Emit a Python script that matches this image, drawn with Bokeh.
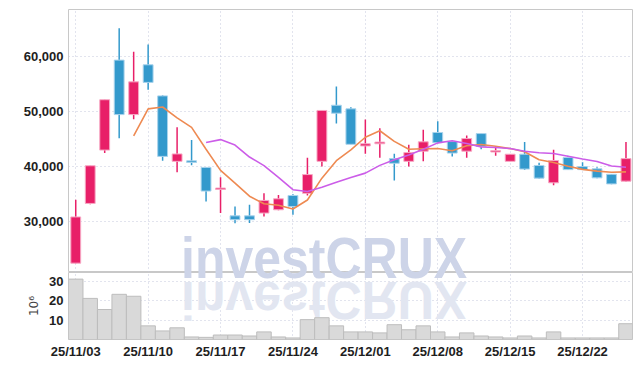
from bokeh.plotting import figure
from bokeh.models import ColumnDataSource, FixedTicker, Range1d, Div, NumeralTickFormatter
from bokeh.layouts import column
from bokeh.embed import file_html
from bokeh.resources import INLINE
import pandas as pd

dates = ["25/11/03", "25/11/04", "25/11/05", "25/11/06", "25/11/07",
         "25/11/10", "25/11/11", "25/11/12", "25/11/13", "25/11/14",
         "25/11/17", "25/11/18", "25/11/19", "25/11/20", "25/11/21",
         "25/11/24", "25/11/25", "25/11/26", "25/11/27", "25/11/28",
         "25/12/01", "25/12/02", "25/12/03", "25/12/04", "25/12/05",
         "25/12/08", "25/12/09", "25/12/10", "25/12/11", "25/12/12",
         "25/12/15", "25/12/16", "25/12/17", "25/12/18", "25/12/19",
         "25/12/22", "25/12/23", "25/12/24", "25/12/26"]
opens = [22500, 33350, 43050, 59400, 49500, 58550, 52900, 41000, 41100, 39900,
         36000, 31100, 31100, 31600, 32200, 34800, 35200, 41000, 51200, 50550,
         43800, 44200, 41500, 41000, 42850, 46250, 44600, 42850, 46050, 42700,
         41000, 42300, 40250, 37100, 41700, 40050, 39650, 38650, 37400]
closes = [30900, 40200, 52200, 49500, 55450, 55350, 41900, 42350, 40800, 35600,
          36150, 30400, 30400, 33900, 34200, 32800, 38600, 50250, 49750, 44100,
          44200, 44500, 40650, 42600, 44550, 44400, 42500, 45150, 43700, 42950,
          42300, 39600, 37950, 41150, 39500, 39500, 38000, 36900, 41500]
highs = [34000, 40200, 52200, 65200, 60900, 62250, 53000, 47200, 44900, 39950,
         38100, 32800, 33100, 35200, 34900, 35000, 41650, 50250, 54600, 50850,
         48600, 47000, 42400, 44000, 46750, 48300, 44700, 45700, 46100, 43600,
         42300, 44500, 40750, 43100, 42000, 40850, 39950, 38700, 44500]
lows = [22500, 33200, 42500, 45200, 48650, 54000, 41100, 39000, 40300, 33700,
        31600, 29750, 29800, 31000, 32100, 31300, 34800, 40050, 47900, 44100,
        42400, 41650, 37500, 40050, 41000, 44300, 41900, 41650, 43200, 42000,
        41000, 39450, 37900, 36650, 39450, 39450, 37950, 36850, 37350]
volumes = [31.0, 21.1, 15.4, 23.2, 22.2, 7.0, 4.4, 6.0, 1.3, 1.1,
           2.3, 2.3, 1.8, 3.9, 1.3, 0.8, 10.2, 11.2, 7.0, 3.9,
           3.9, 3.4, 7.6, 5.0, 7.0, 3.9, 1.3, 3.4, 1.8, 1.3,
           0.8, 1.8, 0.8, 3.9, 0.8, 0.8, 0.8, 0.8, 8.1]
tick_labels = ["25/11/03", "25/11/10", "25/11/17", "25/11/24",
               "25/12/01", "25/12/08", "25/12/15", "25/12/22"]

UP = "#E81F68"
DOWN = "#3399CC"
UP_EDGE = "#F7A8C4"
DOWN_EDGE = "#A9D3EC"
GRID = "#C4C8DC"
FONT = "Liberation Sans"

df = pd.DataFrame({"date": dates, "open": opens, "close": closes,
                   "high": highs, "low": lows, "vol": volumes})
df["x"] = range(len(df))
df["top"] = df[["open", "close"]].max(axis=1)
df["bottom"] = df[["open", "close"]].min(axis=1)
df["bottom"] = df[["bottom", "top"]].apply(lambda r: min(r["bottom"], r["top"] - 250), axis=1)
df["color"] = [UP if c >= o else DOWN for o, c in zip(opens, closes)]
df["edge"] = [UP_EDGE if c >= o else DOWN_EDGE for o, c in zip(opens, closes)]
df["ma5"] = df["close"].rolling(5).mean()
df["ma10"] = df["close"].rolling(10).mean()
src = ColumnDataSource(df)

tick_pos = [dates.index(t) for t in tick_labels]
xr = Range1d(-0.5, 38.45)

p = figure(width=634, height=272, x_range=xr, y_range=Range1d(20800, 68600),
           output_backend="svg", toolbar_location=None,
           min_border_left=68, min_border_right=2, min_border_top=9, min_border_bottom=0)
p.background_fill_color = "white"
p.outline_line_color = "#C8C8C8"
p.xaxis.visible = False
p.yaxis.ticker = FixedTicker(ticks=[30000, 40000, 50000, 60000])
p.yaxis.formatter = NumeralTickFormatter(format="0,0")
for ax in p.yaxis:
    ax.axis_line_color = None
    ax.major_tick_line_color = None
    ax.minor_tick_line_color = None
    ax.major_tick_out = 0
    ax.major_label_text_font = FONT
    ax.major_label_text_font_style = "bold"
    ax.major_label_text_font_size = "13px"
    ax.major_label_text_color = "#1E1E1E"
    ax.major_label_standoff = 5
p.xgrid.ticker = FixedTicker(ticks=tick_pos)
p.grid.grid_line_color = GRID
p.grid.grid_line_dash = "1 3"
p.grid.grid_line_width = 1

p.segment(x0="x", y0="high", x1="x", y1="low", color="color", line_width=1.5, source=src)
p.vbar(x="x", width=0.68, top="top", bottom="bottom", fill_color="color",
       line_color="edge", line_width=1, source=src)
p.line(x="x", y="ma5", color="#EE8A52", line_width=1.6, source=src)
p.line(x="x", y="ma10", color="#CC5DE8", line_width=1.6, source=src)

v = figure(width=634, height=89, x_range=xr, y_range=Range1d(0, 34.4),
           output_backend="svg", toolbar_location=None,
           min_border_left=68, min_border_right=2, min_border_top=0, min_border_bottom=0)
v.outline_line_color = "#C8C8C8"
v.vbar(x="x", width=1.0, top="vol", bottom=0, fill_color="#D9D9D9",
       line_color="#BDBDBD", line_width=1, source=src)
v.xaxis.ticker = FixedTicker(ticks=tick_pos)
v.xaxis.major_label_overrides = {i: t for i, t in zip(tick_pos, tick_labels)}
v.yaxis.ticker = FixedTicker(ticks=[10, 20, 30])
v.yaxis.axis_label = "10\u2076"
v.yaxis.axis_label_text_font = "DejaVu Sans"
v.yaxis.axis_label_text_font_style = "normal"
v.yaxis.axis_label_text_font_size = "12px"
v.yaxis.axis_label_text_color = "#444444"
v.yaxis.axis_label_standoff = 5
for ax in v.xaxis + v.yaxis:
    ax.axis_line_color = None
    ax.major_tick_line_color = None
    ax.minor_tick_line_color = None
    ax.major_tick_out = 0
    ax.major_label_text_font = FONT
    ax.major_label_text_font_style = "bold"
    ax.major_label_text_font_size = "13px"
    ax.major_label_text_color = "#1E1E1E"
v.xaxis.major_label_standoff = 4
v.yaxis.major_label_standoff = 5
v.grid.grid_line_color = GRID
v.grid.grid_line_dash = "1 3"

wm_style = ("font-family:'Liberation Sans';font-weight:bold;font-size:57px;"
            "line-height:57px;white-space:nowrap;")
wm = Div(text='<div style="' + wm_style + 'color:#CDD4E8;transform:scaleX(0.877);'
              'transform-origin:0 0;">investCRUX</div>',
         width=300, height=57,
         styles={"position": "absolute", "left": "176px", "top": "225px",
                 "pointer-events": "none", "z-index": "3"})
refl = Div(text='<div style="' + wm_style + 'color:#E2E6F1;transform:scale(0.877,-0.93);'
                'transform-origin:0 48px;">investCRUX</div>',
           width=300, height=57,
           styles={"position": "absolute", "left": "176px", "top": "229px",
                   "pointer-events": "none", "z-index": "2"})

layout = column(p, v, wm, refl, spacing=0)
open("out.html", "w").write(file_html(layout, INLINE))
